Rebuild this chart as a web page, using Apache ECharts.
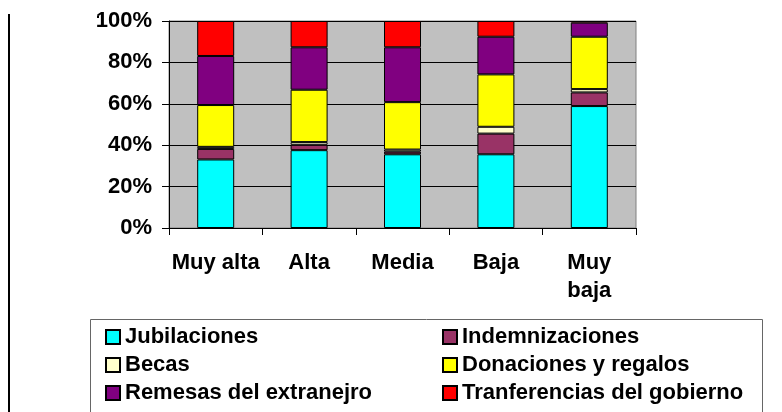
<!DOCTYPE html>
<html>
<head>
<meta charset="utf-8">
<script src="https://cdn.jsdelivr.net/npm/echarts@6/dist/echarts.min.js"></script>
<style>
  html, body { margin: 0; padding: 0; background: #fff; }
  #chart { width: 782px; height: 412px; }
</style>
</head>
<body>
<div id="chart"></div>
<script>
// categorias (nivel) y series apiladas, en % del total
const categories = ['Muy alta', 'Alta', 'Media', 'Baja', 'Muy\nbaja']
const jubilaciones = [33.1, 37.6, 35.6, 35.6, 58.9]
const indemnizaciones = [5.1, 2.6, 1.3, 10.0, 6.6]
const becas = [1.0, 1.3, 1.0, 3.3, 1.6]
const donaciones = [20.2, 25.3, 22.9, 25.3, 25.3]
const remesas = [23.7, 20.5, 26.5, 18.2, 6.8]
const gobierno = [16.9, 12.7, 12.7, 7.6, 0.8]
const yTicks = [0, 20, 40, 60, 80, 100]

const font = '"Liberation Sans", Arial, sans-serif'
const chart = echarts.init(document.getElementById('chart'))

function serie (name, data, color) {
  return {
    name: name,
    type: 'bar',
    stack: 'total',
    barWidth: 37,
    data: data,
    itemStyle: { color: color, borderColor: '#000', borderWidth: 1 },
    emphasis: { disabled: true }
  }
}

const legendText = {
  color: '#000',
  fontFamily: font,
  fontWeight: 'bold',
  fontSize: 22,
  lineHeight: 22
}

function leyenda (left, names) {
  return {
    orient: 'vertical',
    left: left,
    top: 326,
    height: 90,
    padding: 0,
    itemWidth: 14,
    itemHeight: 14,
    itemGap: 6,
    icon: 'rect',
    textStyle: legendText,
    data: names
  }
}

const option = {
  animation: false,
  backgroundColor: '#fff',
  grid: {
    left: 169,
    top: 21,
    width: 467,
    height: 207,
    show: true,
    backgroundColor: '#c0c0c0',
    borderColor: '#808080',
    borderWidth: 1
  },
  legend: [
    leyenda(105, ['Jubilaciones', 'Becas', 'Remesas del extranejro']),
    leyenda(442, ['Indemnizaciones', 'Donaciones y regalos', 'Tranferencias del gobierno'])
  ],
  xAxis: {
    type: 'category',
    data: categories,
    axisLine: { lineStyle: { color: '#000', width: 1 } },
    axisTick: { show: true, length: 7, lineStyle: { color: '#000' } },
    axisLabel: {
      interval: 0,
      color: '#000',
      fontFamily: font,
      fontWeight: 'bold',
      fontSize: 22,
      lineHeight: 28,
      margin: 21
    }
  },
  yAxis: {
    type: 'value',
    min: yTicks[0],
    max: yTicks[yTicks.length - 1],
    interval: 20,
    axisLine: { show: true, lineStyle: { color: '#000', width: 1 } },
    axisTick: { show: true, length: 7, lineStyle: { color: '#000' } },
    axisLabel: {
      color: '#000',
      fontFamily: font,
      fontWeight: 'bold',
      fontSize: 22,
      margin: 17,
      formatter: '{value}%'
    },
    splitLine: { show: true, lineStyle: { color: '#000', width: 1 } }
  },
  series: [
    serie('Jubilaciones', jubilaciones, '#00ffff'),
    serie('Indemnizaciones', indemnizaciones, '#993366'),
    serie('Becas', becas, '#ffffcc'),
    serie('Donaciones y regalos', donaciones, '#ffff00'),
    serie('Remesas del extranejro', remesas, '#800080'),
    serie('Tranferencias del gobierno', gobierno, '#ff0000')
  ],
  graphic: [
    // linea vertical del borde izquierdo
    { type: 'rect', shape: { x: 8, y: 14, width: 2, height: 400 }, style: { fill: '#000' } },
    { type: 'rect', shape: { x: 97, y: 16, width: 2, height: 2 }, style: { fill: '#000' } },
    // marco de la leyenda
    {
      type: 'rect',
      z: -1,
      shape: { x: 90.5, y: 319.5, width: 672, height: 100 },
      style: { fill: '#fff', stroke: '#666', lineWidth: 1 }
    }
  ]
}

chart.setOption(option)
</script>
</body>
</html>
